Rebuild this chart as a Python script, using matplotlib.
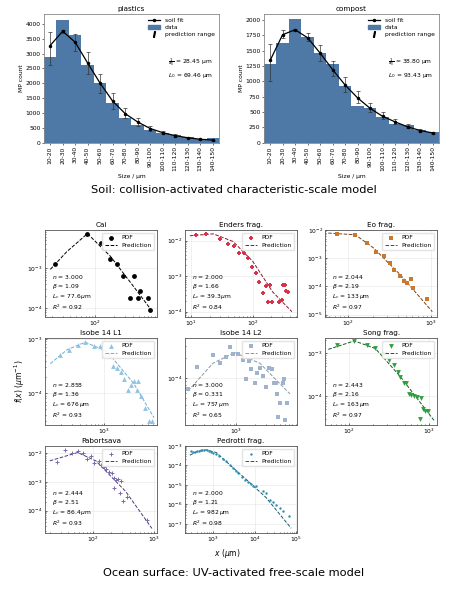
import numpy as np
import matplotlib
matplotlib.use("Agg")
import matplotlib.pyplot as plt
from matplotlib.patches import Patch
from matplotlib.lines import Line2D

# ---- soil panels ----
size_bins = ["10-20", "20-30", "30-40", "40-50", "50-60", "60-70", "70-80", "80-90",
             "90-100", "100-110", "110-120", "120-130", "130-140", "140-150"]
plastics_counts = [2870, 4130, 3640, 2600, 2010, 1330, 830, 600, 420, 340, 270, 190, 130, 150]
plastics_fit = [3270, 3750, 3380, 2680, 2000, 1400, 980, 700, 480, 340, 240, 170, 120, 90]
plastics_lo = [2600, 3700, 3080, 2300, 1680, 1150, 820, 580, 400, 290, 210, 150, 100, 75]
plastics_hi = [3720, 3800, 3650, 3040, 2300, 1660, 1170, 820, 570, 400, 290, 200, 140, 110]
compost_counts = [1290, 1620, 2010, 1730, 1470, 1290, 930, 600, 570, 420, 300, 290, 210, 180]
compost_fit = [1340, 1760, 1840, 1710, 1460, 1190, 940, 730, 560, 430, 340, 260, 200, 160]
compost_lo = [1010, 1700, 1820, 1650, 1330, 1080, 830, 650, 500, 390, 300, 240, 180, 150]
compost_hi = [1610, 1840, 1850, 1790, 1590, 1330, 1070, 840, 650, 500, 390, 300, 230, 180]

# ---- ocean panels ----
cai_x = [23, 74, 124, 175, 224, 280, 366, 425, 480, 530, 695, 750]
cai_y = [1.3e-3, 7.3e-3, 4.2e-3, 1.7e-3, 1.3e-3, 6.4e-4, 1.8e-4, 6.4e-4, 1.8e-4, 2.8e-4, 1.8e-4, 9.4e-5]
cai_cx = [19, 35, 75, 175, 415, 820]
cai_cy = [9.4e-4, 2.6e-3, 7.3e-3, 2.0e-3, 3.5e-4, 8.6e-5]

enders_x = [12, 17.5, 29, 40, 50, 61, 73, 83, 98, 113, 125, 145, 164, 190, 174, 205, 305, 270, 295, 337, 345, 370]
enders_y = [0.0145, 0.0148, 0.011, 0.0079, 0.0068, 0.0044, 0.0046, 0.0032, 0.0018, 0.00126, 6.9e-4, 3.4e-4,
            5.3e-4, 5.5e-4, 1.9e-4, 1.9e-4, 5.5e-4, 1.9e-4, 2.1e-4, 5.5e-4, 3.8e-4, 3.6e-4]
enders_cx = [9.6, 23, 48, 100, 210, 430]
enders_cy = [0.0136, 0.0154, 0.0094, 0.0026, 3.6e-4, 1.0e-4]

eo_x = [73, 123, 170, 220, 270, 320, 365, 425, 475, 520, 575, 615, 910]
eo_y = [0.0074, 0.0068, 0.0034, 0.0017, 0.00115, 6.6e-4, 3.8e-4, 2.3e-4, 1.5e-4, 1.35e-4, 1.9e-4, 8.5e-5, 3.5e-5]
eo_cx = [58, 123, 205, 435, 1050]
eo_cy = [0.0078, 0.0068, 0.0023, 2.5e-4, 1.26e-5]

isobe1_x = [190, 265, 370, 490, 670, 860, 1000, 1170, 1380, 1600, 1850, 2100, 2380, 2700, 3050, 3360,
            3450, 3900, 4580, 5200, 5870]
isobe1_y = [5.1e-4, 6.2e-4, 7.8e-4, 8.7e-4, 7.3e-4, 7.5e-4, 5.1e-4, 4.8e-4, 3.1e-4, 2.9e-4, 2.5e-4, 1.8e-4,
            1.15e-4, 1.4e-4, 1.65e-4, 1.15e-4, 1.65e-4, 8.7e-5, 5.3e-5, 3.1e-5, 3.1e-5]
isobe1_cx = [135, 250, 490, 1100, 2970, 6300]
isobe1_cy = [3.5e-4, 6.3e-4, 8.7e-4, 5.9e-4, 1.5e-4, 3.5e-5]

isobe2_x = [166, 235, 420, 540, 690, 780, 880, 1060, 1280, 1450, 1600, 1750, 1980, 2150, 2380, 2700, 3050,
            3370, 3800, 4000, 4400, 4540, 4750, 5100, 5640, 5860, 6100, 6600]
isobe2_y = [6.8e-5, 1.45e-4, 2.2e-4, 1.7e-4, 2.1e-4, 2.9e-4, 2.3e-4, 2.3e-4, 1.85e-4, 9.8e-5, 1.8e-4, 1.35e-4,
            8.3e-5, 1.2e-4, 1.4e-4, 1.07e-4, 7.3e-5, 1.4e-4, 1.35e-4, 8.3e-5, 8.3e-5, 5.8e-5, 2.6e-5, 4.2e-5,
            8.3e-5, 9.8e-5, 2.4e-5, 4.2e-5]
isobe2_cx = [166, 420, 940, 2380, 7300]
isobe2_cy = [6.4e-5, 1.67e-4, 2.4e-4, 1.67e-4, 5.8e-5]

song_x = [71, 118, 170, 215, 275, 315, 365, 410, 440, 490, 510, 560, 600, 650, 700, 790, 770, 830, 885, 970]
song_y = [1.54e-3, 1.9e-3, 1.6e-3, 1.36e-3, 9.5e-4, 7.2e-4, 5.3e-4, 3.7e-4, 2.9e-4, 2.0e-4, 2.0e-4, 1.15e-4,
          1.1e-4, 1.0e-4, 9.7e-5, 9.1e-5, 3.0e-5, 5.0e-5, 4.6e-5, 4.6e-5]
song_cx = [56, 118, 215, 440, 1150]
song_cy = [1.24e-3, 1.95e-3, 1.3e-3, 2.9e-4, 2.8e-5]

pab_x = [26, 36, 46.5, 57, 69, 80, 94, 106, 128, 136, 154, 168, 185, 205, 223, 244, 263, 287, 223, 276, 312,
         362, 770]
pab_y = [4.9e-3, 0.013, 0.01, 0.012, 0.01, 6.1e-3, 8.1e-3, 4.4e-3, 5.4e-3, 3.8e-3, 3.4e-3, 2.9e-3, 2.3e-3,
         2.1e-3, 1.4e-3, 1.2e-3, 1.27e-3, 1.05e-3, 6.1e-4, 4.1e-4, 2.1e-4, 3.1e-4, 4.9e-5]
pab_cx = [20, 57, 113, 345, 930]
pab_cy = [5.4e-3, 0.0105, 5.4e-3, 4.7e-4, 2.4e-5]

ped_x = [300, 330, 360, 400, 450, 500, 550, 600, 700, 800, 900, 1000, 1200, 1400, 1700, 2000, 2500, 3000,
         3500, 4000, 5000, 6000, 7000, 8000, 9000, 11000, 16000, 19000, 23000, 28000, 33000, 40000, 48000, 69000]
ped_y = [5.5e-4, 5.0e-4, 4.6e-4, 5.2e-4, 5.6e-4, 5.9e-4, 6.0e-4, 6.0e-4, 5.8e-4, 5.4e-4, 5.0e-4, 4.5e-4,
         3.6e-4, 2.9e-4, 2.1e-4, 1.6e-4, 1.05e-4, 7.4e-5, 5.4e-5, 4.1e-5, 2.6e-5, 1.8e-5, 1.35e-5, 1.05e-5,
         8.6e-6, 8.5e-6, 4.7e-6, 3.8e-6, 1.7e-6, 1.4e-6, 9.5e-7, 6.4e-7, 4.4e-7, 2.6e-7]
ped_cx = [275, 400, 690, 1200, 3000, 6300, 19000, 76000]
ped_cy = [3.3e-4, 5.0e-4, 6.2e-4, 4.5e-4, 7.6e-5, 1.9e-5, 2.2e-6, 6e-8]

panels = [
    ("Cai", "black", "black", "o", cai_x, cai_y, cai_cx, cai_cy, "3.000", "1.09", "77.6", "0.92",
     (15.5, 980), (6.2e-5, 9.1e-3)),
    ("Enders frag.", "#d6324a", "#8b1a2a", "P", enders_x, enders_y, enders_cx, enders_cy, "2.000", "1.66",
     "39.3", "0.84", (8, 520), (7.2e-5, 0.02)),
    ("Eo frag.", "#c9782e", "#7a4210", "s", eo_x, eo_y, eo_cx, eo_cy, "2.044", "2.19", "133", "0.97",
     (53, 1200), (8.3e-6, 0.0102)),
    ("Isobe 14 L1", "#8fc3e3", "#6aaed6", "^", isobe1_x, isobe1_y, isobe1_cx, isobe1_cy, "2.858", "1.36",
     "676", "0.93", (110, 7000), (2.6e-5, 1.05e-3)),
    ("Isobe 14 L2", "#9fb3cc", "#8897ab", "s", isobe2_x, isobe2_y, isobe2_cx, isobe2_cy, "3.000", "0.331",
     "757", "0.65", (148, 9500), (2.0e-5, 4.0e-4)),
    ("Song frag.", "#2e9e3e", "#135c1e", "v", song_x, song_y, song_cx, song_cy, "2.443", "2.16", "163",
     "0.97", (51, 1260), (2.2e-5, 2.3e-3)),
    ("Pabortsava", "#7d6ab0", "#4a3a7a", "+", pab_x, pab_y, pab_cx, pab_cy, "2.444", "2.51", "86.4", "0.93",
     (16.6, 1120), (1.7e-5, 0.018)),
    ("Pedrotti frag.", "#2a8fb0", "#17596e", ".", ped_x, ped_y, ped_cx, ped_cy, "2.000", "1.21", "982",
     "0.98", (210, 1.05e5), (3.5e-8, 1.0e-3)),
]

BAR = "#4e79a7"
FS = 4.3

fig = plt.figure(figsize=(4.67, 6.0), dpi=100)


def soil_panel(rect, title, counts, fit, lo, hi, yticks, txt):
    ax = fig.add_axes(rect)
    pos = np.arange(len(size_bins))
    ax.bar(pos, counts, width=1.0, color=BAR)
    fit = np.array(fit)
    err = [fit - np.array(lo), np.array(hi) - fit]
    ax.errorbar(pos, fit, yerr=err, fmt="none", ecolor="#333333", elinewidth=0.5, capsize=1.5,
                capthick=0.5)
    ax.plot(pos, fit, "-o", color="black", lw=0.9, ms=1.5)
    ax.set_xlim(-0.5, len(size_bins) - 0.5)
    ax.set_xticks(pos)
    ax.set_xticklabels(size_bins, rotation=90, fontsize=FS)
    ax.set_yticks(yticks)
    ax.set_yticklabels([str(v) for v in yticks], fontsize=FS)
    ax.tick_params(length=1.5, width=0.4, pad=1)
    ax.set_title(title, fontsize=5.2, pad=2)
    ax.set_xlabel("Size / μm", fontsize=FS, labelpad=2)
    ax.set_ylabel("MP count", fontsize=FS, labelpad=1)
    for s in ax.spines.values():
        s.set_color("#888888")
        s.set_linewidth(0.6)
    h = [Line2D([], [], color="black", marker="o", ms=1.5, lw=0.9),
         Patch(color=BAR),
         Line2D([], [], color="black", marker="$I$", ms=4, lw=0)]
    ax.legend(h, ["soil fit", "data", "prediction range"], loc="upper right", fontsize=FS,
              frameon=False, handlelength=2.0, borderaxespad=0.3, labelspacing=0.3)
    ax.text(0.71, 0.58, txt, transform=ax.transAxes, fontsize=FS, va="center", linespacing=1.4)
    return ax


soil_panel([0.094, 0.762, 0.375, 0.215], "plastics", plastics_counts, plastics_fit, plastics_lo,
           plastics_hi, list(range(0, 4001, 500)),
           "$\\frac{1}{a_0}$ = 28.45 μm\n$L_0$ = 69.46 μm")
ax = soil_panel([0.565, 0.762, 0.375, 0.215], "compost", compost_counts, compost_fit, compost_lo,
                compost_hi, list(range(0, 2001, 250)),
                "$\\frac{1}{a_0}$ = 38.80 μm\n$L_0$ = 93.43 μm")
ax.set_ylim(0, 2100)

fig.text(0.5, 0.683, "Soil: collision-activated characteristic-scale model", ha="center",
         va="center", fontsize=8.2)

lefts = [0.096, 0.396, 0.696]
bottoms = [0.472, 0.292, 0.112]
for i, (title, col, dcol, mk, px, py, cx, cy, n, beta, lc, r2, xl, yl) in enumerate(panels):
    r, c = divmod(i, 3)
    ax = fig.add_axes([lefts[c], bottoms[r], 0.24, 0.145])
    if mk == "+":
        ax.scatter(px, py, marker=mk, s=8, color=col, lw=0.7, label="PDF", zorder=3)
    elif mk == ".":
        ax.scatter(px, py, marker="o", s=3, color=col, lw=0, label="PDF", zorder=3)
    else:
        ax.scatter(px, py, marker=mk, s=12, color=col, lw=0, label="PDF", zorder=3)
    ax.plot(cx, cy, "--", color=dcol, lw=0.7, label="Prediction", zorder=2)
    ax.set_xscale("log")
    ax.set_yscale("log")
    ax.set_xlim(*xl)
    ax.set_ylim(*yl)
    ax.grid(True, which="major", color="#e5e5e5", lw=0.4)
    ax.tick_params(which="both", direction="in", labelsize=FS, length=1.5, width=0.4, pad=1.5)
    ax.tick_params(which="minor", length=0.8)
    ax.set_title(title, fontsize=5.2, pad=2)
    for s in ax.spines.values():
        s.set_color("#555555")
        s.set_linewidth(0.6)
    ax.legend(loc="upper right", fontsize=FS, frameon=True, framealpha=0.9, edgecolor="#e0e0e0",
              handlelength=2.0, borderpad=0.4, labelspacing=0.4)
    ax.text(0.06, 0.06, f"$n$ = {n}\n$\\beta$ = {beta}\n$L_c$ = {lc}$\\,\\mu$m\n$R^2$ = {r2}",
            transform=ax.transAxes, fontsize=FS, va="bottom", linespacing=1.15)

fig.text(0.043, 0.365, "$f(x)$ ($\\mu$m$^{-1}$)", rotation=90, ha="center", va="center", fontsize=5.5)
fig.text(0.486, 0.077, "$x$ ($\\mu$m)", ha="center", va="center", fontsize=5.5)
fig.text(0.5, 0.045, "Ocean surface: UV-activated free-scale model", ha="center", va="center",
         fontsize=8.2)

fig.savefig("out.png", dpi=100)
